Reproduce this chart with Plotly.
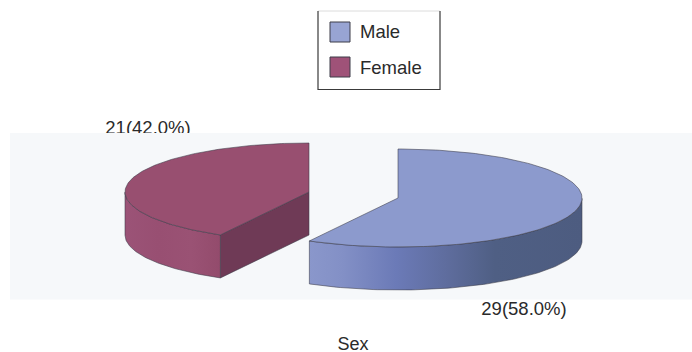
import numpy as np
import plotly.graph_objects as go

# Chart data
categories = ["Male", "Female"]
counts = [29, 21]
percents = [58.0, 42.0]
axis_title = "Sex"

# Projection of the tilted pie, in layout pixels
RX, RY, DEPTH = 184, 49, 43
CENTERS = {"Male": (398, 198), "Female": (309, 192)}
TOP_COLORS = {"Male": "#8c9acd", "Female": "#984f70"}
INNER_COLORS = {"Male": "#6b7ab5", "Female": "#6f3a56"}
SWATCH_COLORS = {"Male": "#98a4d3", "Female": "#9f5278"}
EDGE = "rgba(60,60,72,0.8)"
INK = "#2a2a2a"
FONT = "Liberation Sans"

total = sum(counts)
sweeps = [c / total * 2 * np.pi for c in counts]


def rim(center, a0, a1, n=160):
    """Points on the top rim, angle measured clockwise from 12 o'clock."""
    t = np.linspace(a0, a1, n)
    return center[0] + RX * np.sin(t), center[1] - RY * np.cos(t), t


def polygon(xs, ys, **kw):
    return go.Scatter(x=list(xs), y=list(ys), mode="lines", fill="toself",
                      hoverinfo="skip", showlegend=False, **kw)


edge_line = dict(color=EDGE, width=0.7)
traces = []

# Value labels; the panel drawn next covers the lower edge of the upper one
label_xy = {"Male": (524, 310), "Female": (148, 129)}
for name, n, p in zip(categories, counts, percents):
    x, y = label_xy[name]
    traces.append(go.Scatter(
        x=[x], y=[y], mode="text", text=[f"{n}({p:.1f}%)"], showlegend=False,
        textfont=dict(family=FONT, size=18.5, color=INK), hoverinfo="skip"))

# Plot panel behind the pie
traces.append(polygon([10, 692, 692, 10, 10], [133, 133, 299.5, 299.5, 133],
                      fillcolor="#f6f8fa", line=dict(width=0)))

# Female slice, drawn first so it sits behind the male one
male_sweep, female_sweep = sweeps
c = CENTERS["Female"]
rx, ry, t = rim(c, male_sweep, 2 * np.pi)
# Cut wall running from the centre to the front of the slice
traces.append(polygon(
    [c[0], rx[0], rx[0], c[0], c[0]],
    [c[1], ry[0], ry[0] + DEPTH, c[1] + DEPTH, c[1]],
    fillcolor=INNER_COLORS["Female"], line=edge_line))
# Outer wall, only the part facing the viewer
front = t <= 1.5 * np.pi
fx, fy = rx[front], ry[front]
traces.append(go.Scatter(
    x=list(fx) + list(fx[::-1]) + [fx[0]],
    y=list(fy) + list(fy[::-1] + DEPTH) + [fy[0]],
    mode="lines", fill="toself", hoverinfo="skip", showlegend=False,
    line=edge_line,
    fillgradient=dict(type="horizontal", colorscale=[
        [0, "#9b5377"], [0.35, "#984f72"], [0.7, "#9a5274"], [1, "#934b6c"]])))
# Top face
traces.append(polygon(
    [c[0], *rx, c[0]], [c[1], *ry, c[1]],
    fillcolor=TOP_COLORS["Female"], line=edge_line))

# Male slice
c = CENTERS["Male"]
rx, ry, t = rim(c, 0, male_sweep)
front = t >= 0.5 * np.pi
fx, fy = rx[front], ry[front]
traces.append(go.Scatter(
    x=list(fx) + list(fx[::-1]) + [fx[0]],
    y=list(fy) + list(fy[::-1] + DEPTH) + [fy[0]],
    mode="lines", fill="toself", hoverinfo="skip", showlegend=False,
    line=edge_line,
    fillgradient=dict(type="horizontal", colorscale=[
        [0, "#8a97cb"], [0.12, "#8390c6"], [0.32, "#6b7ab7"],
        [0.5, "#5f6d9e"], [0.68, "#4f5f84"], [1, "#4d5c80"]])))
traces.append(polygon(
    [c[0], *rx, c[0]], [c[1], *ry, c[1]],
    fillcolor=TOP_COLORS["Male"], line=edge_line))

# Axis title
traces.append(go.Scatter(
    x=[353], y=[345], mode="text", text=[axis_title], showlegend=False,
    textfont=dict(family=FONT, size=18, color=INK), hoverinfo="skip"))

# Legend swatches and their names
for name, y, ty in zip(categories, [32, 67], [33, 69]):
    traces.append(go.Scatter(
        x=[340], y=[y], mode="markers",
        marker=dict(symbol="square", size=20, color=SWATCH_COLORS[name],
                    line=dict(color="#3c3c48", width=1)),
        hoverinfo="skip", showlegend=False))
    traces.append(go.Scatter(
        x=[360], y=[ty], mode="text", text=[name], textposition="middle right",
        textfont=dict(family=FONT, size=18.5, color=INK),
        hoverinfo="skip", showlegend=False))

fig = go.Figure(traces)

# Legend frame: pale along the top, dark on the other three sides
fig.add_shape(type="line", x0=318, x1=440, y0=11, y1=11,
              line=dict(color="#dcdcdc", width=1))
fig.add_shape(type="path", path="M318,11 L318,89.5 L440,89.5 L440,11",
              line=dict(color="#3a3a3a", width=1.2))

fig.update_layout(
    width=692, height=352, margin=dict(l=0, r=0, t=0, b=0),
    paper_bgcolor="white", plot_bgcolor="white", showlegend=False,
    xaxis=dict(range=[0, 692], visible=False, fixedrange=True),
    yaxis=dict(range=[352, 0], visible=False, fixedrange=True),
)
fig.write_html("out.html", config={"displayModeBar": False})
